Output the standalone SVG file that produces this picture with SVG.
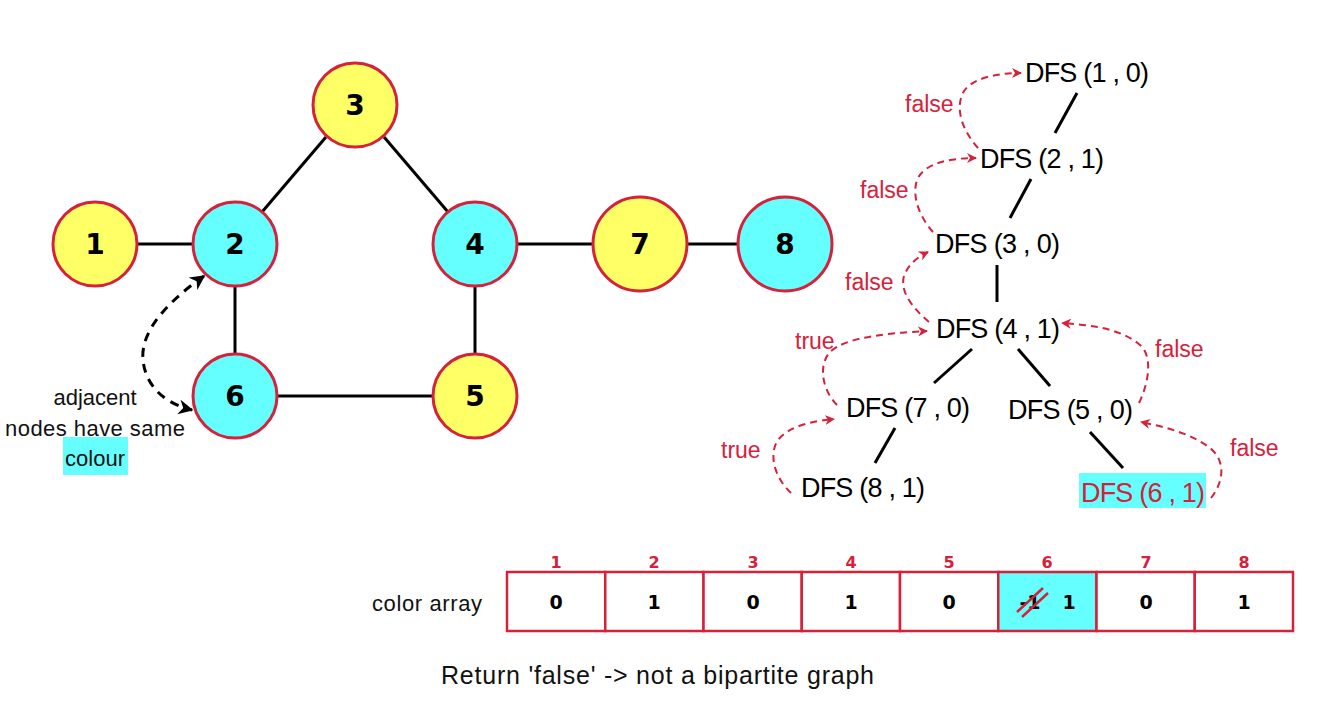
<svg xmlns="http://www.w3.org/2000/svg" width="1317" height="709" viewBox="0 0 1317 709">
<style>
.node circle{stroke:#D6213B;stroke-width:3}
.y{fill:#FFFF66}
.c{fill:#66FFFF}
.nt{font-family:"DejaVu Sans",Verdana,sans-serif;font-weight:bold;font-size:28px;fill:#000;text-anchor:middle}
.edge{stroke:#000;stroke-width:3;fill:none}
.dfs{font-family:"Liberation Sans",Arial,sans-serif;font-size:27px;fill:#000}
.lbl{font-family:"Liberation Sans",Arial,sans-serif;font-size:23px;fill:#D6213B}
.txt{font-family:"Liberation Sans",Arial,sans-serif;font-size:22px;fill:#111}
.rd{stroke:#D6213B;stroke-width:2;stroke-dasharray:7,5;fill:none;marker-end:url(#ra)}
.cell{fill:#fff;stroke:#D6213B;stroke-width:2.5}
.idx{font-family:"DejaVu Sans",Verdana,sans-serif;font-weight:bold;font-size:16px;fill:#D6213B;text-anchor:middle}
.val{font-family:"DejaVu Sans",Verdana,sans-serif;font-weight:bold;font-size:19px;fill:#000;text-anchor:middle}
</style>
<defs>
<marker id="ra" viewBox="0 0 10 10" refX="9" refY="5" markerWidth="5" markerHeight="5" orient="auto" markerUnits="strokeWidth">
<path d="M0,0 L10,5 L0,10 L3,5 Z" fill="#D6213B"/>
</marker>
<marker id="ba" viewBox="0 0 10 10" refX="9" refY="5" markerWidth="5" markerHeight="5" orient="auto-start-reverse" markerUnits="strokeWidth">
<path d="M0,0 L10,5 L0,10 L3,5 Z" fill="#000"/>
</marker>
</defs>

<g id="connectors">
<line class="edge" x1="136" y1="244" x2="193" y2="244"/>
<line class="edge" x1="262" y1="212" x2="326" y2="137"/>
<line class="edge" x1="384" y1="137" x2="448" y2="212"/>
<line class="edge" x1="518" y1="244" x2="593" y2="244"/>
<line class="edge" x1="688" y1="244" x2="738" y2="244"/>
<line class="edge" x1="235" y1="287" x2="235" y2="353"/>
<line class="edge" x1="278" y1="396" x2="432" y2="396"/>
<line class="edge" x1="475" y1="287" x2="475" y2="353"/>
<path d="M204,276 C170,300 140,330 143,360 C146,390 170,405 192,410" stroke="#000" stroke-width="3" stroke-dasharray="9,7" fill="none" marker-start="url(#ba)" marker-end="url(#ba)"/>
<line class="edge" x1="1077" y1="93" x2="1055" y2="133"/>
<line class="edge" x1="1031" y1="179" x2="1010" y2="218"/>
<line class="edge" x1="997" y1="265" x2="997" y2="302"/>
<line class="edge" x1="972" y1="349" x2="934" y2="383"/>
<line class="edge" x1="1018" y1="349" x2="1050" y2="386"/>
<line class="edge" x1="895" y1="428" x2="875" y2="463"/>
<line class="edge" x1="1090" y1="432" x2="1123" y2="468"/>
<path class="rd" d="M978,148 C962,130 956,110 962,95 C968,79 995,73 1021,73"/>
<path class="rd" d="M933,232 C918,215 912,195 917,180 C924,163 950,158 976,158"/>
<path class="rd" d="M929,322 C910,306 900,290 904,276 C908,265 916,258 928,252"/>
<path class="rd" d="M837,405 C822,390 818,365 830,352 C845,337 890,333 927,331"/>
<path class="rd" d="M791,493 C775,478 768,455 778,440 C790,425 815,421 834,419"/>
<path class="rd" d="M1139,403 C1150,380 1152,355 1140,345 C1120,328 1090,325 1062,323"/>
<path class="rd" d="M1211,498 C1225,480 1225,460 1210,448 C1190,433 1165,427 1141,422"/>
</g>

<g id="node1" class="node"><circle class="y" cx="95" cy="244" r="42"/><text class="nt" x="95" y="254">1</text></g>
<g id="node2" class="node"><circle class="c" cx="235" cy="244" r="42"/><text class="nt" x="235" y="254">2</text></g>
<g id="node3" class="node"><circle class="y" cx="355" cy="105" r="42"/><text class="nt" x="355" y="115">3</text></g>
<g id="node4" class="node"><circle class="c" cx="475" cy="244" r="42"/><text class="nt" x="475" y="254">4</text></g>
<g id="node5" class="node"><circle class="y" cx="475" cy="396" r="42"/><text class="nt" x="475" y="406">5</text></g>
<g id="node6" class="node"><circle class="c" cx="235" cy="396" r="42"/><text class="nt" x="235" y="406">6</text></g>
<g id="node7" class="node"><circle class="y" cx="640" cy="244" r="47"/><text class="nt" x="640" y="254">7</text></g>
<g id="node8" class="node"><circle class="c" cx="785" cy="244" r="47"/><text class="nt" x="785" y="254">8</text></g>

<g id="note">
<rect x="63" y="437" width="65" height="38" fill="#66FFFF"/>
<text class="txt" x="95" y="405" text-anchor="middle">adjacent</text>
<text class="txt" x="95" y="436" text-anchor="middle" textLength="180">nodes have same</text>
<text class="txt" x="95" y="466" text-anchor="middle">colour</text>
</g>

<g id="dfs-tree">
<text class="dfs" x="1025" y="82" textLength="124">DFS (1 , 0)</text>
<text class="dfs" x="980" y="168" textLength="124">DFS (2 , 1)</text>
<text class="dfs" x="935" y="253" textLength="125">DFS (3 , 0)</text>
<text class="dfs" x="936" y="338" textLength="124">DFS (4 , 1)</text>
<text class="dfs" x="846" y="417" textLength="124">DFS (7 , 0)</text>
<text class="dfs" x="1008" y="419" textLength="125">DFS (5 , 0)</text>
<text class="dfs" x="801" y="497" textLength="124">DFS (8 , 1)</text>
<rect x="1079" y="473" width="127" height="35" fill="#66FFFF"/>
<text class="dfs" x="1081" y="502" textLength="124" style="fill:#D6213B">DFS (6 , 1)</text>
<text class="lbl" x="905" y="112">false</text>
<text class="lbl" x="860" y="198">false</text>
<text class="lbl" x="845" y="290">false</text>
<text class="lbl" x="795" y="349">true</text>
<text class="lbl" x="721" y="458">true</text>
<text class="lbl" x="1155" y="357">false</text>
<text class="lbl" x="1230" y="456">false</text>
</g>

<g id="color-array">
<text class="txt" x="372" y="611" textLength="110">color array</text>
<rect class="cell" x="507" y="572" width="98.25" height="59"/>
<rect class="cell" x="605.25" y="572" width="98.25" height="59"/>
<rect class="cell" x="703.5" y="572" width="98.25" height="59"/>
<rect class="cell" x="801.75" y="572" width="98.25" height="59"/>
<rect class="cell" x="900" y="572" width="98.25" height="59"/>
<rect class="cell" x="998.25" y="572" width="98.25" height="59" style="fill:#66FFFF"/>
<rect class="cell" x="1096.5" y="572" width="98.25" height="59"/>
<rect class="cell" x="1194.75" y="572" width="98.25" height="59"/>
<text class="idx" x="556" y="568">1</text>
<text class="idx" x="654" y="568">2</text>
<text class="idx" x="753" y="568">3</text>
<text class="idx" x="851" y="568">4</text>
<text class="idx" x="949" y="568">5</text>
<text class="idx" x="1047" y="568">6</text>
<text class="idx" x="1146" y="568">7</text>
<text class="idx" x="1244" y="568">8</text>
<text class="val" x="556" y="609">0</text>
<text class="val" x="654" y="609">1</text>
<text class="val" x="753" y="609">0</text>
<text class="val" x="851" y="609">1</text>
<text class="val" x="949" y="609">0</text>
<text class="val" x="1030" y="609">-1</text>
<text class="val" x="1069" y="609">1</text>
<text class="val" x="1146" y="609">0</text>
<text class="val" x="1244" y="609">1</text>
<line x1="1017" y1="612" x2="1043" y2="588" stroke="#D6213B" stroke-width="2.5"/>
<line x1="1022" y1="617" x2="1048" y2="593" stroke="#D6213B" stroke-width="2.5"/>
</g>

<text id="result" class="txt" x="441" y="684" textLength="433" style="font-size:25px">Return 'false' -&gt; not a bipartite graph</text>
</svg>
